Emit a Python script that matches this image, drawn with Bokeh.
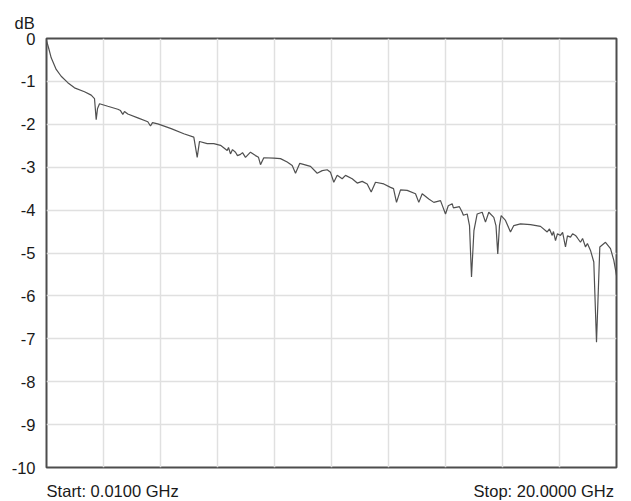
from bokeh.plotting import figure
from bokeh.models import Range1d, FixedTicker, Title
from bokeh.embed import file_html
from bokeh.resources import INLINE

# Frequency (GHz) and insertion loss (dB)
freq_ghz = [0.01, 0.08, 0.175, 0.35, 0.525, 0.757, 0.992, 1.343, 1.578, 1.693,
            1.753, 1.80, 1.869, 2.160, 2.511, 2.605, 2.686, 2.745, 2.861, 3.212,
            3.563, 3.657, 3.727, 3.913, 4.383, 4.825, 5.176, 5.295, 5.376, 5.646,
            5.877, 6.112, 6.347, 6.393, 6.463, 6.533, 6.638, 6.708, 6.814, 6.884,
            6.989, 7.164, 7.340, 7.445, 7.515, 7.631, 7.982, 8.216, 8.451, 8.627,
            8.743, 8.893, 9.269, 9.504, 9.679, 9.854, 9.970, 10.086, 10.205, 10.380,
            10.496, 10.731, 10.907, 11.082, 11.257, 11.397, 11.548, 11.839, 12.074, 12.180,
            12.285, 12.425, 12.660, 12.951, 13.067, 13.186, 13.417, 13.593, 13.828, 14.003,
            14.10, 14.238, 14.28, 14.413, 14.49, 14.589, 14.63, 14.764, 14.845, 14.915,
            15.000, 15.114, 15.290, 15.405, 15.521, 15.697, 15.773, 15.836, 15.896, 15.956,
            16.107, 16.282, 16.398, 16.633, 16.984, 17.335, 17.570, 17.65, 17.745, 17.79,
            17.861, 17.93, 18.036, 18.11, 18.211, 18.28, 18.387, 18.46, 18.562, 18.63,
            18.737, 18.81, 18.913, 18.98, 19.088, 19.204, 19.299, 19.415, 19.614, 19.790,
            19.906, 20.0]
loss_db = [-0.05, -0.21, -0.45, -0.72, -0.88, -1.03, -1.15, -1.24, -1.32, -1.40,
           -1.89, -1.63, -1.52, -1.58, -1.65, -1.68, -1.77, -1.70, -1.76, -1.85,
           -1.94, -2.04, -1.96, -1.99, -2.10, -2.22, -2.30, -2.77, -2.40, -2.45,
           -2.45, -2.49, -2.61, -2.54, -2.69, -2.59, -2.65, -2.73, -2.70, -2.66,
           -2.77, -2.65, -2.73, -2.77, -2.94, -2.78, -2.79, -2.80, -2.88, -2.96,
           -3.14, -2.91, -2.98, -3.14, -3.08, -3.06, -3.12, -3.35, -3.19, -3.27,
           -3.19, -3.27, -3.37, -3.33, -3.39, -3.58, -3.35, -3.39, -3.47, -3.50,
           -3.82, -3.53, -3.54, -3.62, -3.82, -3.62, -3.74, -3.82, -3.78, -4.09,
           -3.90, -3.85, -3.95, -3.93, -3.92, -4.05, -4.12, -4.09, -4.36, -5.56,
           -4.48, -4.09, -4.05, -4.28, -4.05, -4.17, -4.36, -5.02, -4.36, -4.13,
           -4.24, -4.51, -4.36, -4.32, -4.34, -4.38, -4.51, -4.44, -4.59, -4.50,
           -4.71, -4.55, -4.59, -4.52, -4.86, -4.60, -4.63, -4.55, -4.59, -4.65,
           -4.75, -4.66, -4.86, -4.78, -4.94, -5.21, -7.08, -4.86, -4.75, -4.90,
           -5.17, -5.52]

y_ticks = [0, -1, -2, -3, -4, -5, -6, -7, -8, -9, -10]
y_tick_labels = ["0", "-1", "-2", "-3", "-4", "-5", "-6", "-7", "-8", "-9", "-10"]
x_start, x_stop = 0.01, 20.0
x_grid = [x_start + i * (x_stop - x_start) / 10 for i in range(11)]
start_text = "Start: 0.0100 GHz"
stop_text = "Stop: 20.0000 GHz"
unit_text = "dB"
# positions (in GHz) where the start / stop captions are centred
caption_pos = [2.33, 17.45]

FONT = "Liberation Sans"
FS = "16.5px"
TXT = "#1a1a1a"

p = figure(frame_width=570, frame_height=429, output_backend="svg",
           toolbar_location=None,
           x_range=Range1d(x_start, x_stop), y_range=Range1d(-10, 0),
           min_border_left=46, min_border_right=7, min_border_top=38,
           min_border_bottom=20)
p.background_fill_color = "white"
p.border_fill_color = "white"
p.outline_line_color = "#4d4d4d"
p.outline_line_width = 2

p.xaxis.ticker = FixedTicker(ticks=caption_pos)
p.xaxis.major_label_overrides = {caption_pos[0]: start_text, caption_pos[1]: stop_text}
p.xaxis.axis_line_color = None
p.xaxis.major_tick_line_color = None
p.xaxis.minor_tick_line_color = None
p.xaxis.major_tick_out = 0
p.xaxis.major_tick_in = 0
p.xaxis.major_label_standoff = 14
p.xaxis.major_label_text_font = FONT
p.xaxis.major_label_text_font_size = FS
p.xaxis.major_label_text_color = TXT

p.xgrid.ticker = FixedTicker(ticks=x_grid)
p.xgrid.grid_line_color = "#e0e0e0"
p.xgrid.grid_line_width = 1.5

p.yaxis.ticker = FixedTicker(ticks=y_ticks)
p.yaxis.major_label_overrides = {t: s for t, s in zip(y_ticks, y_tick_labels)}
p.yaxis.axis_line_color = None
p.yaxis.major_tick_line_color = None
p.yaxis.minor_tick_line_color = None
p.yaxis.major_tick_out = 0
p.yaxis.major_tick_in = 0
p.yaxis.major_label_standoff = 11
p.yaxis.major_label_text_font = FONT
p.yaxis.major_label_text_font_size = FS
p.yaxis.major_label_text_color = TXT
p.ygrid.grid_line_color = "#e0e0e0"
p.ygrid.grid_line_width = 1.5

p.line(freq_ghz, loss_db, line_color="#505050", line_width=1.2)

t = Title(text=unit_text, align="left", offset=-32, text_font=FONT,
          text_font_size=FS, text_font_style="normal", text_color=TXT,
          standoff=14)
p.add_layout(t, "above")

open("out.html", "w").write(file_html(p, INLINE))
